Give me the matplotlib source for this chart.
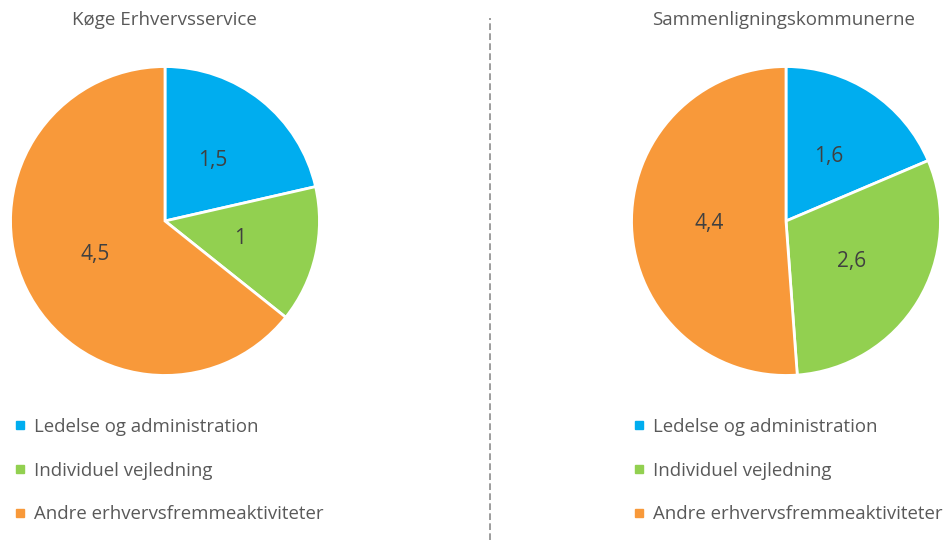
import numpy as np
import matplotlib.pyplot as plt
from matplotlib.lines import Line2D

plt.rcParams['font.family'] = ['Open Sans', 'DejaVu Sans']

# data
categories = ['Ledelse og administration', 'Individuel vejledning', 'Andre erhvervsfremmeaktiviteter']
titles = ['Køge Erhvervsservice', 'Sammenligningskommunerne']
koege = [1.5, 1.0, 4.5]
sammen = [1.6, 2.6, 4.4]
value_labels = [['1,5', '1', '4,5'], ['1,6', '2,6', '4,4']]

colors = ['#00ADEF', '#92D050', '#F8993A']
text_col = '#595959'

W, H = 946, 540
fig = plt.figure(figsize=(W / 100, H / 100), dpi=100)

# pixel boxes for pies: (left, top, size)
boxes = [(9, 65, 312), (630, 65, 312)]
title_x = [164, 784]
legend_x = [14, 633]

for k, vals in enumerate([koege, sammen]):
    l, t, s = boxes[k]
    ax = fig.add_axes([l / W, (H - t - s) / H, s / W, s / H])
    wedges, _ = ax.pie(vals, colors=colors, startangle=90, counterclock=False,
                       radius=1, wedgeprops=dict(edgecolor='white', linewidth=2))
    # value labels at half radius
    for w, lab in zip(wedges, value_labels[k]):
        ang = np.deg2rad((w.theta1 + w.theta2) / 2)
        ax.text(0.5 * np.cos(ang), 0.5 * np.sin(ang), lab, ha='center', va='center',
                fontsize=15, color='#404040')
    ax.set_xlim(-1.01, 1.01)
    ax.set_ylim(-1.01, 1.01)
    ax.axis('off')

    fig.text(title_x[k] / W, 1 - 20 / H, titles[k], ha='center', va='center',
             fontsize=13.5, color=text_col)

    handles = [Line2D([], [], marker='s', linestyle='none', markersize=6,
                      markerfacecolor=c, markeredgecolor=c) for c in colors]
    fig.legend(handles, categories, loc='upper left',
               bbox_to_anchor=(legend_x[k] / W, 1 - 418 / H),
               frameon=False, fontsize=13.4, labelcolor=text_col,
               handlelength=0.6, handletextpad=0.45, labelspacing=1.38,
               borderaxespad=0, borderpad=0)

# dashed divider
fig.add_artist(Line2D([490 / W, 490 / W], [0, 1 - 18 / H], transform=fig.transFigure,
                      color='#8C8C8C', linestyle=(0, (4, 2)), linewidth=1.2))

fig.savefig('out.png', dpi=100)
